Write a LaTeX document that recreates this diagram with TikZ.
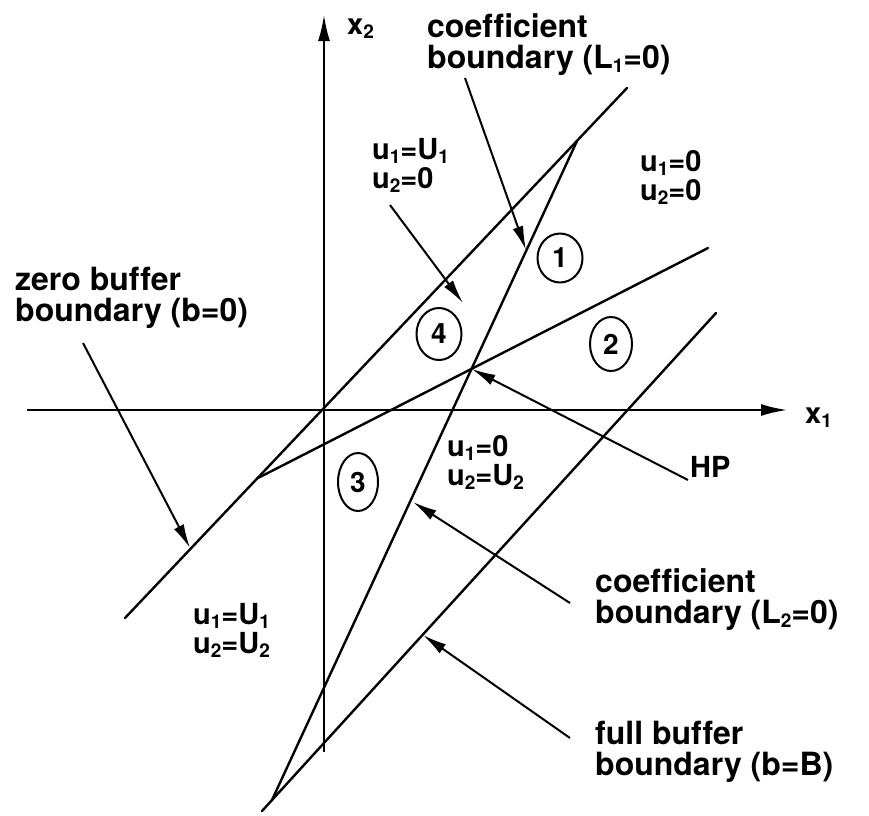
\documentclass[tikz,border=0pt]{standalone}
\usepackage{fontspec}
\setmainfont{TeX Gyre Heros}[Ligatures=CommonOff]
\usetikzlibrary{arrows.meta,shapes.geometric}
\newcommand{\sbs}[1]{\raisebox{-0.14em}{\fontsize{19}{19}\selectfont #1}}
\begin{document}
\begin{tikzpicture}[x=1pt,y=-1pt,
  lbl/.style={font=\fontsize{32}{31}\selectfont\bfseries, inner sep=0pt, anchor=base west, align=left},
  ulbl/.style={font=\fontsize{29}{29}\selectfont\bfseries, inner sep=0pt, anchor=base west, align=left},
  bline/.style={line width=2.4pt, line cap=round},
  axisline/.style={line width=2pt, -{Latex[length=26pt,width=12pt]}},
  ptr/.style={line width=2pt, -{Latex[length=24pt,width=11pt]}},
  reg/.style={draw, ellipse, line width=2pt, inner sep=0pt, font=\fontsize{28}{28}\selectfont\bfseries}]
\useasboundingbox (0,0) rectangle (869,815);
% key points
\coordinate (O) at (324,410);
\coordinate (ZB1) at (125,618);
\coordinate (ZB2) at (627,88);
\coordinate (T) at (577,141);
\coordinate (V) at (272,800);
\coordinate (S1) at (258,478);
\coordinate (S2) at (708,248);
\coordinate (FB1) at (262,811);
\coordinate (FB2) at (716,313);
\coordinate (HP) at (intersection of T--V and S1--S2);
\coordinate (X1a) at (27,410);
\coordinate (X1b) at (787,410);
\coordinate (X2a) at (324,752);
\coordinate (X2b) at (324,15);
% axes
\draw[axisline] (X1a) -- (X1b);
\draw[axisline] (X2a) -- (X2b);
% boundary lines
\draw[bline] (ZB1) -- (ZB2);
\draw[bline] (T) -- (V);
\draw[bline] (S1) -- (S2);
\draw[bline] (FB1) -- (FB2);
% labels (anchored at the baseline of the last line)
\node[ulbl] (x2l) at (347,34) {x\sbs{2}};
\node[ulbl] (x1l) at (805,423) {x\sbs{1}};
\node[lbl] (cb1) at (427,68) {coefficient\\boundary (L\sbs{1}=0)};
\node[lbl] (zb) at (15,321) {zero buffer\\boundary (b=0)};
\node[ulbl] (r4t) at (372,188) {u\sbs{1}=U\sbs{1}\\u\sbs{2}=0};
\node[ulbl] (r1t) at (640,200) {u\sbs{1}=0\\u\sbs{2}=0};
\node[ulbl] (r3t) at (447,485) {u\sbs{1}=0\\u\sbs{2}=U\sbs{2}};
\node[ulbl] (hpl) at (690,477) {HP};
\node[lbl] (cb2) at (595,623) {coefficient\\boundary (L\sbs{2}=0)};
\node[ulbl] (rlt) at (193,653) {u\sbs{1}=U\sbs{1}\\u\sbs{2}=U\sbs{2}};
\node[lbl] (fb) at (595,775) {full buffer\\boundary (b=B)};
% region circles
\node[reg, minimum width=45pt, minimum height=49pt] (c1) at (560,258) {1};
\node[reg, minimum width=45pt, minimum height=52pt] (c4) at (439,334) {4};
\node[reg, minimum width=42pt, minimum height=54pt] (c2) at (611,344) {2};
\node[reg, minimum width=40pt, minimum height=58pt] (c3) at (358,482) {3};
% pointer arrows
\coordinate (pzbA) at (83,343);   \coordinate (pzbB) at (190,548);
\coordinate (pc1A) at (465,78);   \coordinate (pc1B) at (526,250);
\coordinate (pr4A) at (390,205);  \coordinate (pr4B) at (463,303);
\coordinate (phpA) at (688,480);
\coordinate (pc2A) at (570,603);  \coordinate (pc2B) at (413,502);
\coordinate (pfbA) at (570,738);  \coordinate (pfbB) at (423,635);
\draw[ptr] (pzbA) -- (pzbB);
\draw[ptr] (pc1A) -- (pc1B);
\draw[ptr] (pr4A) -- (pr4B);
\draw[ptr] (phpA) -- (HP);
\draw[ptr] (pc2A) -- (pc2B);
\draw[ptr] (pfbA) -- (pfbB);
\end{tikzpicture}
\end{document}
